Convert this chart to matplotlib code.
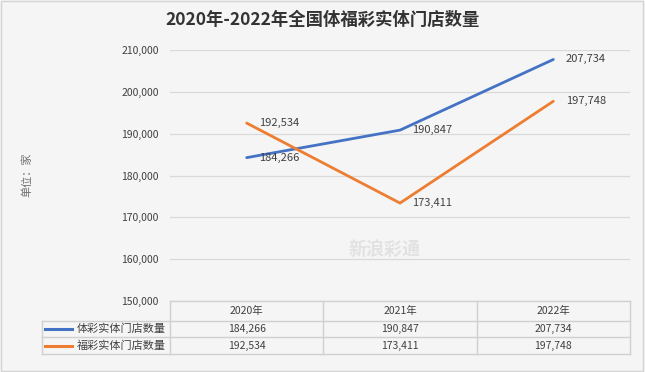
import matplotlib
matplotlib.use('Agg')
import matplotlib.pyplot as plt
from matplotlib.lines import Line2D
from matplotlib.patches import Rectangle

plt.rcParams['font.family'] = ['Noto Sans CJK SC', 'DejaVu Sans']

years = ['2020年', '2021年', '2022年']
series_names = ['体彩实体门店数量', '福彩实体门店数量']
sports = [184266, 190847, 207734]
welfare = [192534, 173411, 197748]
colors = ['#4472C4', '#ED7D31']
yticks = [150000, 160000, 170000, 180000, 190000, 200000, 210000]

fig = plt.figure(figsize=(6.45, 3.72), dpi=100, facecolor='#f5f5f5')
fig.patches.append(Rectangle((0.002, 0.003), 0.995, 0.994, transform=fig.transFigure,
                             fill=False, edgecolor='#d4d4d4', linewidth=1))
ax = fig.add_axes([170/645, 1-301/372, 460/645, 251/372])
ax.set_facecolor('#f5f5f5')

x = list(range(len(years)))
for vals, c in zip([sports, welfare], colors):
    ax.plot(x, vals, color=c, linewidth=2, solid_capstyle='round', zorder=3)
    for xi, v in zip(x, vals):
        ax.annotate(f'{v:,}', (xi, v), xytext=(9, 0), textcoords='offset points',
                    ha='left', va='center', fontsize=8, color='#404040', zorder=4)

ax.set_xlim(-0.5, 2.5)
ax.set_ylim(150000, 210000)
ax.set_yticks(yticks)
ax.set_yticklabels([f'{t:,}' for t in yticks], fontsize=7.5, color='#404040')
ax.set_xticks([])
ax.tick_params(axis='y', length=0, pad=8)
ax.grid(axis='y', color='#d9d9d9', linewidth=0.9)
for s in ax.spines.values():
    s.set_visible(False)

fig.text(0.5, 1-20/372, '2020年-2022年全国体福彩实体门店数量', ha='center', va='center',
         fontsize=12.5, fontweight='bold', color='#333333')
fig.text(27/645, 1-175/372, '单位：家', rotation=90, ha='center', va='center',
         fontsize=8, color='#707070')

# watermark
fig.text(385/645, 1-250/372, '新浪彩通', ha='center', va='center', fontsize=13,
         fontweight='bold', style='italic', color='#e2e2e2', zorder=0)

# data table below the chart
tr = ax.transAxes
lc = '#d0d0d0'
rows_y = [0, -20/251, -36/251, -53/251]
leg_left = (42-170)/460
col_x = [0, 1/3, 2/3, 1]
for i, yy in enumerate(rows_y):
    x0 = 0 if i == 0 else leg_left
    ax.add_line(Line2D([x0, 1], [yy, yy], transform=tr, color=lc, linewidth=1, clip_on=False))
for cx in col_x:
    ax.add_line(Line2D([cx, cx], [rows_y[0], rows_y[-1]], transform=tr, color=lc,
                       linewidth=1, clip_on=False))
ax.add_line(Line2D([leg_left, leg_left], [rows_y[1], rows_y[-1]], transform=tr, color=lc,
                   linewidth=1, clip_on=False))

for j, yr in enumerate(years):
    ax.text((j+0.5)/3, (rows_y[0]+rows_y[1])/2, yr, transform=tr, ha='center', va='center',
            fontsize=7.5, color='#404040')
for i, (name, vals, c) in enumerate(zip(series_names, [sports, welfare], colors)):
    ym = (rows_y[i+1]+rows_y[i+2])/2
    ax.add_line(Line2D([(45-170)/460, (72-170)/460], [ym, ym], transform=tr, color=c,
                       linewidth=2.2, clip_on=False))
    ax.text((77-170)/460, ym, name, transform=tr, ha='left', va='center', fontsize=8,
            color='#404040')
    for j, v in enumerate(vals):
        ax.text((j+0.5)/3, ym, f'{v:,}', transform=tr, ha='center', va='center',
                fontsize=7.5, color='#404040')

fig.savefig('out.png', dpi=100, facecolor=fig.get_facecolor())
